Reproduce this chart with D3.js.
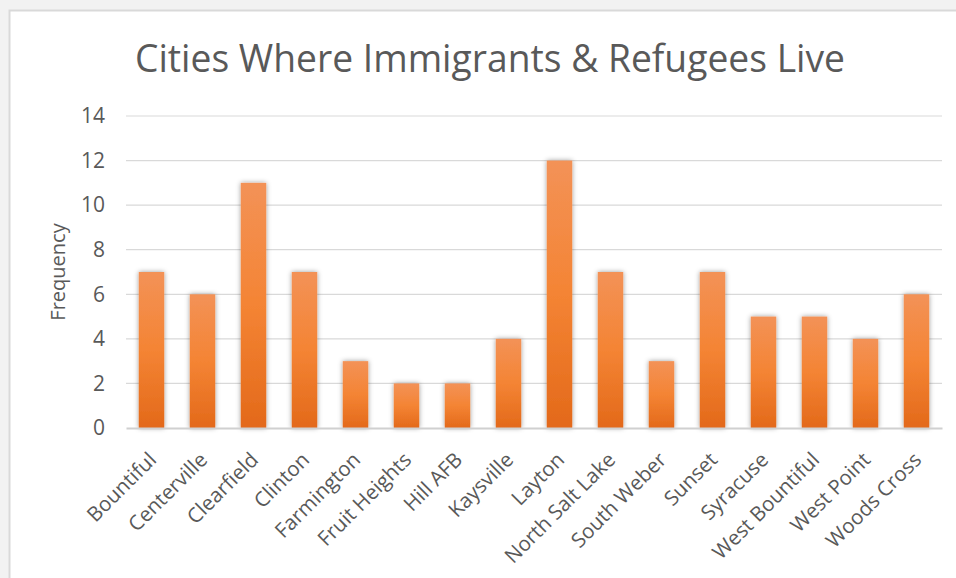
<!DOCTYPE html>
<html>
<head>
<meta charset="utf-8">
<script src="https://cdn.jsdelivr.net/npm/d3@7"></script>
<style>
  body { margin: 0; background: #f2f2f2; }
  svg { display: block; }
  text { font-family: "Open Sans", sans-serif; fill: #595959; }
</style>
</head>
<body>
<div id="chart"></div>
<script>
// data
let cities = ["Bountiful", "Centerville", "Clearfield", "Clinton", "Farmington",
  "Fruit Heights", "Hill AFB", "Kaysville", "Layton", "North Salt Lake",
  "South Weber", "Sunset", "Syracuse", "West Bountiful", "West Point", "Woods Cross"];
let frequency = [7, 6, 11, 7, 3, 2, 2, 4, 12, 7, 3, 7, 5, 5, 4, 6];
let yTicks = [0, 2, 4, 6, 8, 10, 12, 14];
let titleText = "Cities Where Immigrants & Refugees Live";
let yLabel = "Frequency";

let W = 956, H = 578;
let margin = {top: 116, right: 14, bottom: 150, left: 126};
let width = W - margin.left - margin.right;
let height = H - margin.top - margin.bottom;

let svg = d3.select("#chart").append("svg")
    .attr("width", W)
    .attr("height", H);

let defs = svg.append("defs");
let grad = defs.append("linearGradient")
    .attr("id", "barGrad")
    .attr("x1", 0).attr("y1", 0).attr("x2", 0).attr("y2", 1);
grad.append("stop").attr("offset", "0%").attr("stop-color", "#f39257");
grad.append("stop").attr("offset", "50%").attr("stop-color", "#f48434");
grad.append("stop").attr("offset", "100%").attr("stop-color", "#e3691a");

let shadow = defs.append("filter")
    .attr("id", "shadow")
    .attr("x", "-50%").attr("y", "-10%").attr("width", "200%").attr("height", "120%");
shadow.append("feDropShadow")
    .attr("dx", 0).attr("dy", 0).attr("stdDeviation", 2.5)
    .attr("flood-color", "#000").attr("flood-opacity", 0.4);

// chart box
svg.append("rect")
    .attr("x", 9.5).attr("y", 10.5)
    .attr("width", W + 10).attr("height", H + 10)
    .attr("fill", "#ffffff")
    .attr("stroke", "#d9d9d9")
    .attr("stroke-width", 2);

svg.append("text")
    .attr("x", 490)
    .attr("y", 72)
    .attr("text-anchor", "middle")
    .style("font-size", "38px")
    .attr("textLength", 710)
    .attr("lengthAdjust", "spacingAndGlyphs")
    .text(titleText);

let g = svg.append("g")
    .attr("transform", "translate(" + margin.left + "," + margin.top + ")");

let x = d3.scaleBand()
    .domain(cities)
    .range([0, width])
    .paddingInner(0.5)
    .paddingOuter(0.25);

let y = d3.scaleLinear()
    .domain([0, 14])
    .range([height, 0]);

// gridlines
g.selectAll(".grid")
    .data(yTicks.filter(d => d > 0))
    .enter().append("line")
    .attr("class", "grid")
    .attr("x1", 0).attr("x2", width)
    .attr("y1", d => y(d)).attr("y2", d => y(d))
    .attr("stroke", "#d9d9d9")
    .attr("stroke-width", 1.2);

// y axis labels
let yAxis = g.append("g")
    .call(d3.axisLeft(y).tickValues(yTicks).tickSize(0).tickPadding(21));
yAxis.select(".domain").remove();
yAxis.selectAll("text")
    .style("font-size", "21px")
    .style("font-family", "'Open Sans', sans-serif")
    .attr("fill", "#595959");

// bars
g.selectAll(".bar")
    .data(frequency)
    .enter().append("rect")
    .attr("class", "bar")
    .attr("x", (d, i) => x(cities[i]))
    .attr("y", d => y(d))
    .attr("width", x.bandwidth())
    .attr("height", d => height - y(d))
    .attr("fill", "url(#barGrad)")
    .attr("filter", "url(#shadow)");

// x axis
let xAxis = g.append("g")
    .attr("transform", "translate(0," + height + ")")
    .call(d3.axisBottom(x).tickSize(0).tickPadding(0));
xAxis.select(".domain")
    .attr("stroke", "#d0d0d0")
    .attr("stroke-width", 2);
xAxis.selectAll("text")
    .style("font-size", "20.5px")
    .style("font-family", "'Open Sans', sans-serif")
    .attr("fill", "#595959")
    .attr("text-anchor", "end")
    .attr("dy", "0.35em")
    .attr("transform", "translate(1,28) rotate(-45)");

// y axis title
svg.append("text")
    .attr("transform", "translate(65," + (margin.top + height / 2) + ") rotate(-90)")
    .attr("text-anchor", "middle")
    .style("font-size", "20px")
    .text(yLabel);
</script>
</body>
</html>
